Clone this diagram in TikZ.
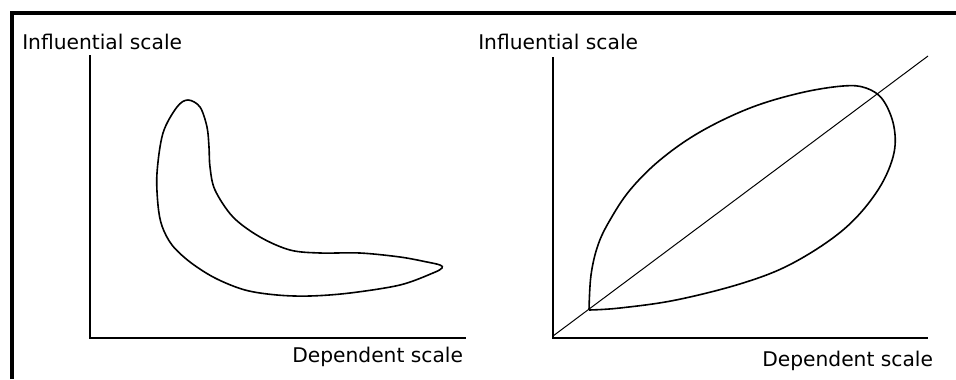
\documentclass[tikz,border=0pt]{standalone}
\usepackage{fontspec}
\setmainfont{DejaVu Sans}
\usetikzlibrary{positioning}
\tikzset{
  axislbl/.style={font=\fontsize{15.2}{17}\selectfont, inner sep=0pt, anchor=west},
  axisline/.style={line width=1.5pt},
  blobline/.style={line width=1.2pt},
  diagline/.style={line width=0.75pt},
}

\begin{document}
\begin{tikzpicture}[x=0.0264cm, y=-0.0264cm]
    \useasboundingbox (0,0) rectangle (956,379);
    % Rahmen
    \draw[line width=3pt] (12,379) -- (12,13) -- (956,13);
    % Linkes Diagramm: Achsen
    \coordinate (lo) at (90,338);
    \coordinate (ltop) at (90,55);
    \coordinate (lend) at (466,338);
    \draw[axisline] (ltop) -- (lo) -- (lend);
    \node[axislbl] (linf) at (22,42) {Influential scale};
    \node[axislbl] (ldep) at (292,357) {Dependent scale};
    % Bananenform
    \draw[blobline] plot[smooth cycle, tension=0.55] coordinates {
      (188,100) (200,107) (207,127) (209,147) (210,167) (215,190) (233,217)
      (260,237) (290,250) (320,253) (360,253) (400,257) (427,262) (440,265)
      (442,268) (433,273) (400,285) (350,293) (310,296) (277,295) (245,290)
      (215,278) (190,262) (172,245) (162,226) (158,205) (157,173) (163,133)
      (177,107)};
    % Rechtes Diagramm: Achsen
    \coordinate (ro) at (553,338);
    \coordinate (rtop) at (553,57);
    \coordinate (rend) at (928,338);
    \coordinate (rdiag) at (928,56);
    \draw[axisline] (rtop) -- (ro) -- (rend);
    \draw[diagline] (553,336) -- (rdiag);
    \node[axislbl] (rinf) at (478,42) {Influential scale};
    \node[axislbl] (rdep) at (762,361) {Dependent scale};
    % Blattform
    \draw[blobline] plot[smooth, tension=0.6] coordinates {
      (589,310) (591,275) (598,245) (610,220) (630,190) (660,160) (700,132)
      (750,108) (800,93) (843,86) (866,88) (883,100) (894,127) (893,157)
      (876,193) (843,230) (793,263) (743,283) (676,300) (620,308) (589,310)};
\end{tikzpicture}
\end{document}
